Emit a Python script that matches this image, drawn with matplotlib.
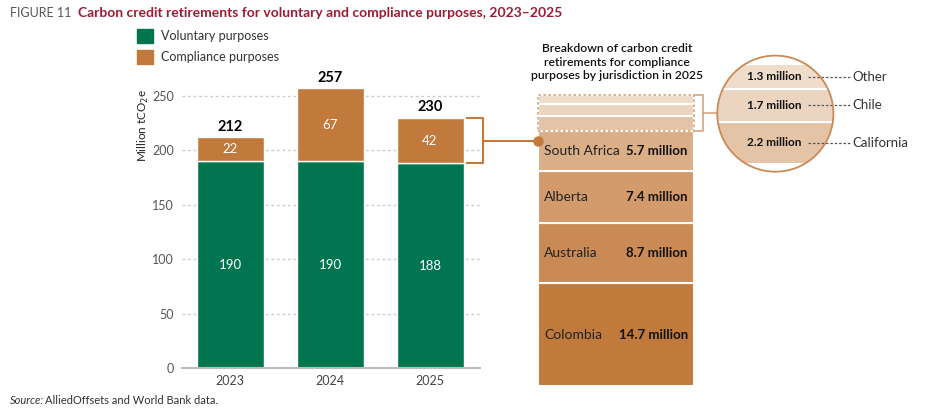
import matplotlib.pyplot as plt
from matplotlib.patches import Circle, Rectangle
import numpy as np

plt.rcParams['font.family'] = ['Lato', 'DejaVu Sans']

# data
years = ['2023', '2024', '2025']
voluntary = [190, 190, 188]
compliance = [22, 67, 42]

jurisdictions = ['Colombia', 'Australia', 'Alberta', 'South Africa', 'California', 'Chile', 'Other']
jur_values = [14.7, 8.7, 7.4, 5.7, 2.2, 1.7, 1.3]
jur_colors = ['#C17A3C', '#C98A55', '#D39B6C', '#DAAE87', '#E3C4A6', '#EBD5C1', '#EFDDCC']

green = '#00754F'
orange = '#C17A3C'
light_brown = '#D4A57E'

W, H = 947, 412


def box(x0, y0, x1, y1):
    # pixel box (top-left origin) -> figure fraction
    return [x0 / W, 1 - y1 / H, (x1 - x0) / W, (y1 - y0) / H]


fig = plt.figure(figsize=(W / 100, H / 100), dpi=100)

# main stacked bars
ax = fig.add_axes(box(182, 74.2, 480, 368))
x = np.arange(len(years))
bw = 0.67
ax.bar(x, voluntary, bw, color=green, edgecolor='white', linewidth=1, zorder=2)
ax.bar(x, compliance, bw, bottom=voluntary, color=orange, edgecolor='white', linewidth=1, zorder=2)
ax.set_xlim(-0.48, 2.5)
ax.set_ylim(0, 270)
ax.set_yticks(range(0, 251, 50))
ax.set_xticks(x)
ax.set_xticklabels(years)
for g in range(50, 251, 50):
    ax.axhline(g, color='#cccccc', lw=1, ls=(0, (2, 2)), zorder=1)
for s in ['top', 'right', 'left']:
    ax.spines[s].set_visible(False)
ax.spines['bottom'].set_color('#bbbbbb')
ax.spines['bottom'].set_linewidth(1.5)
ax.tick_params(axis='y', length=0, colors='#555555', labelsize=9, pad=6)
ax.tick_params(axis='x', length=0, colors='#444444', labelsize=9, pad=5)

for i in range(len(years)):
    v, c = voluntary[i], compliance[i]
    ax.text(i, v / 2, str(v), ha='center', va='center', color='white', fontsize=9.5)
    ax.text(i, v + c / 2, str(c), ha='center', va='center', color='white', fontsize=9.5)
    ax.text(i, v + c + 3, str(v + c), ha='center', va='bottom', color='black',
            fontsize=10.5, fontweight='bold')

# breakdown bar
ax2 = fig.add_axes(box(538, 95, 694, 386))
total = sum(jur_values)
cum = np.concatenate([[0], np.cumsum(jur_values)[:-1]])
ax2.bar(0, jur_values, 1, bottom=cum, color=jur_colors, edgecolor='white', linewidth=1.5)
ax2.set_xlim(-0.5, 0.5)
ax2.set_ylim(0, total)
ax2.axis('off')
for name, v, b in zip(jurisdictions[:4], jur_values[:4], cum[:4]):
    ax2.text(-0.46, b + v / 2, name, ha='left', va='center', fontsize=10, color='#222222')
    ax2.text(0.46, b + v / 2, f'{v} million', ha='right', va='center', fontsize=9.5,
             fontweight='bold', color='#111111')

small_bottom = cum[4]
ax2.add_patch(Rectangle((-0.5, small_bottom), 1, total - small_bottom, fill=False,
                        ls=(0, (1.5, 1.5)), ec=light_brown, lw=1.2, clip_on=False, zorder=3))
bx = 0.558
ax2.plot([0.5, bx, bx, 0.5], [total, total, small_bottom, small_bottom],
         color=light_brown, lw=1.2, clip_on=False)
ax2.plot([bx, 0.646], [(total + small_bottom) / 2] * 2, color=light_brown, lw=1.2, clip_on=False)

# bracket on 2025 bar and connector
top25 = voluntary[2] + compliance[2]
ax.plot([2.37, 2.53, 2.53, 2.37], [top25, top25, voluntary[2], voluntary[2]],
        color=orange, lw=1.5, clip_on=False)
p = ax2.transData.transform((-0.5, 0))
xend = ax.transData.inverted().transform(p)[0]
ymid = (top25 + voluntary[2]) / 2
ax.plot([2.53, xend], [ymid, ymid], color=orange, lw=1.5, clip_on=False)
# dot drawn on ax2 so it sits above the breakdown bar
dot_disp = ax.transData.transform((xend, ymid))
dot_y = ax2.transData.inverted().transform(dot_disp)[1]
ax2.plot([-0.5], [dot_y], 'o', color=orange, ms=6.5, clip_on=False, zorder=6)

# magnifier circle
ax3 = fig.add_axes(box(716.7, 55, 834, 172.3))
r = 3.05
cy = 39.12
ax3.set_xlim(-r, r)
ax3.set_ylim(cy - r, cy + r)
ax3.axis('off')
circ = Circle((0, cy), r * 0.99, facecolor='white', edgecolor='none')
ax3.add_patch(circ)
bars = ax3.bar(0, jur_values[4:], 2 * r, bottom=cum[4:], color=jur_colors[4:],
               edgecolor='white', linewidth=1.5)
for b in bars:
    b.set_clip_path(circ)
ax3.add_patch(Circle((0, cy), r * 0.99, fill=False, edgecolor='#C98A55', lw=1.3,
                     zorder=5, clip_on=False))
for name, v, b in zip(jurisdictions[4:], jur_values[4:], cum[4:]):
    yc = b + v / 2
    ax3.text(-0.08, yc, f'{v} million', ha='center', va='center', fontsize=8.5,
             fontweight='bold', color='#111111')
    ax3.plot([1.70, 3.89], [yc, yc], ls=(0, (2, 1.5)), color='#555555', lw=0.9, clip_on=False)
    ax3.text(3.99, yc, name, ha='left', va='center', fontsize=9.5, color='#333333')

# titles, legend, notes
fig.text(10 / W, 1 - 13 / H, 'FIGURE 11', color='#555555', fontsize=9, va='center')
fig.text(78 / W, 1 - 13 / H,
         'Carbon credit retirements for voluntary and compliance purposes, 2023\u20132025',
         color='#9E1B32', fontsize=10, fontweight='bold', va='center')

for yy, col, lab in [(36, green, 'Voluntary purposes'), (57, orange, 'Compliance purposes')]:
    fig.patches.append(Rectangle((137 / W, 1 - (yy + 7) / H), 16 / W, 14 / H,
                                 transform=fig.transFigure, color=col))
    fig.text(161 / W, 1 - yy / H, lab, fontsize=9, color='#333333', va='center')

fig.text(617 / W, 1 - 62 / H,
         'Breakdown of carbon credit\nretirements for compliance\npurposes by jurisdiction in 2025',
         ha='center', va='center', fontsize=8.7, fontweight='semibold', linespacing=1.25,
         color='#111111')

fig.text(143 / W, 1 - 125 / H, 'Million tCO$_2$e', rotation=90, ha='center', va='center',
         fontsize=8.5, color='#222222')

fig.text(10 / W, 1 - 400 / H, 'Source:', fontstyle='italic', fontsize=8, color='#333333',
         va='center')
fig.text(45 / W, 1 - 400 / H, 'AlliedOffsets and World Bank data.', fontsize=8,
         color='#333333', va='center')

fig.savefig('out.png', dpi=100)
